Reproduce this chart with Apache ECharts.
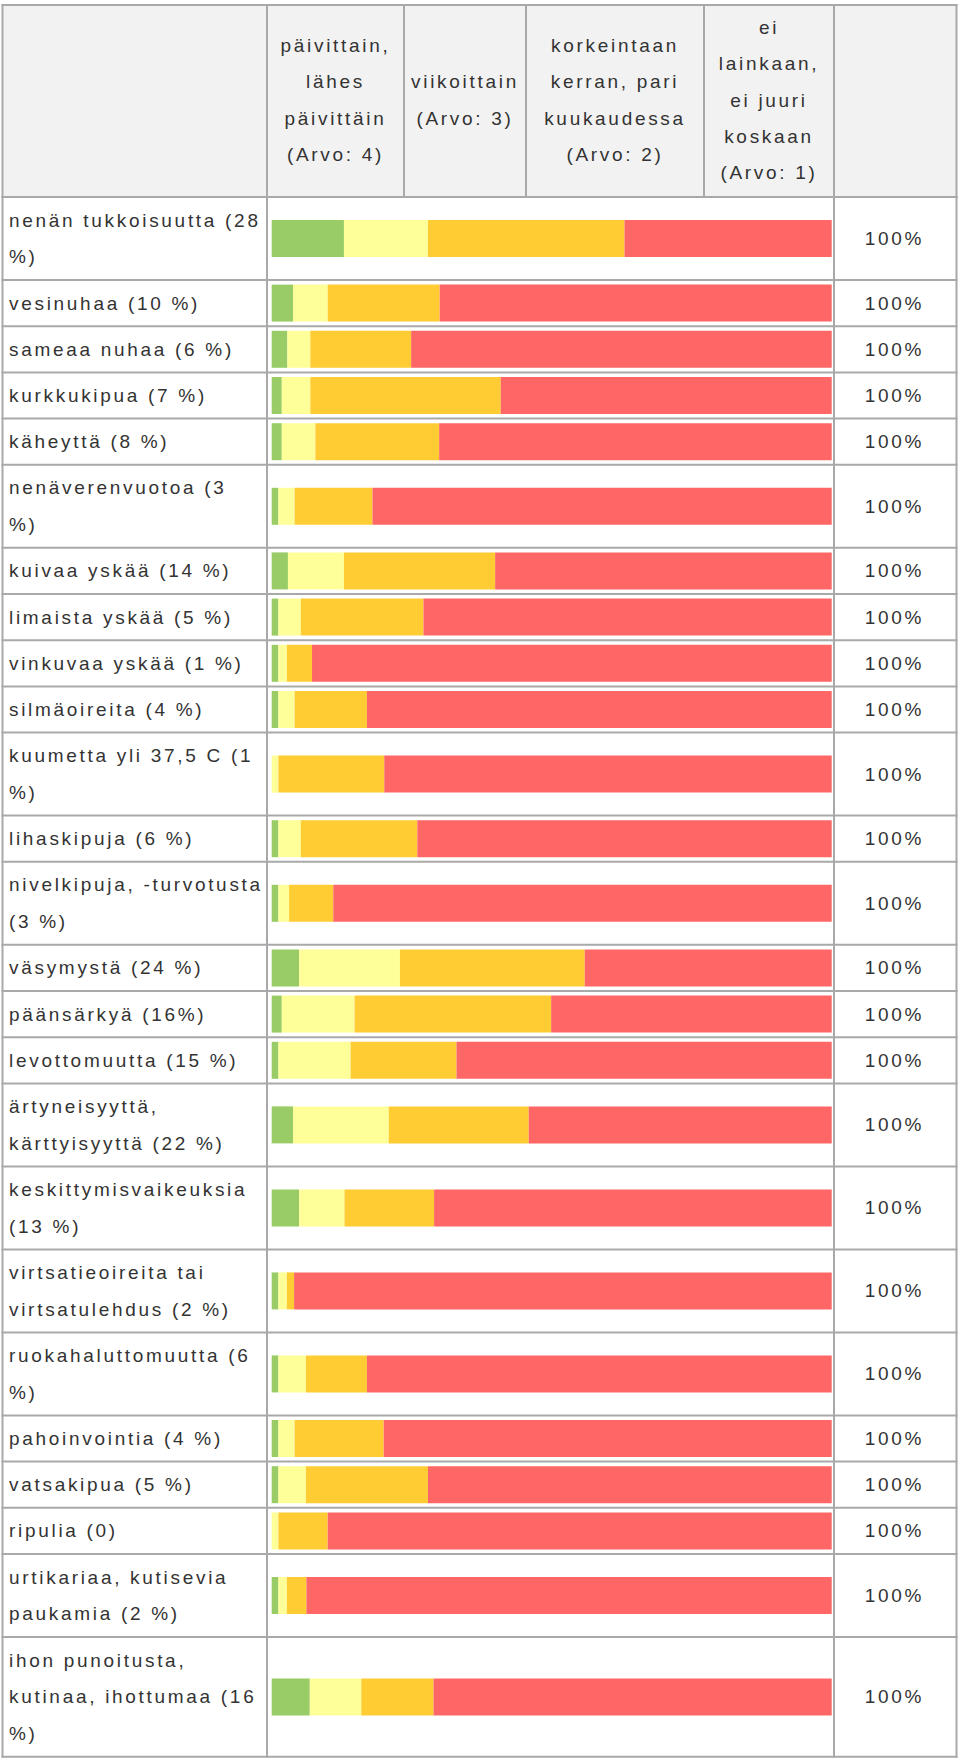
<!DOCTYPE html>
<html>
<head>
<meta charset="utf-8">
<script src="https://cdn.jsdelivr.net/npm/echarts@6/dist/echarts.min.js"></script>
<style>
  html, body { margin: 0; padding: 0; background: #ffffff; }
  #chart { width: 960px; height: 1759px; }
  #chart text { letter-spacing: 2.7px; }
</style>
</head>
<body>
<div id="chart"></div>
<script>
// ---- data ----
const categories = [
  'nenän tukkoisuutta (28\n%)',
  'vesinuhaa (10 %)',
  'sameaa nuhaa (6 %)',
  'kurkkukipua (7 %)',
  'käheyttä (8 %)',
  'nenäverenvuotoa (3\n%)',
  'kuivaa yskää (14 %)',
  'limaista yskää (5 %)',
  'vinkuvaa yskää (1 %)',
  'silmäoireita (4 %)',
  'kuumetta yli 37,5 C (1\n%)',
  'lihaskipuja (6 %)',
  'nivelkipuja, -turvotusta\n(3 %)',
  'väsymystä (24 %)',
  'päänsärkyä (16%)',
  'levottomuutta (15 %)',
  'ärtyneisyyttä,\nkärttyisyyttä (22 %)',
  'keskittymisvaikeuksia\n(13 %)',
  'virtsatieoireita tai\nvirtsatulehdus (2 %)',
  'ruokahaluttomuutta (6\n%)',
  'pahoinvointia (4 %)',
  'vatsakipua (5 %)',
  'ripulia (0)',
  'urtikariaa, kutisevia\npaukamia (2 %)',
  'ihon punoitusta,\nkutinaa, ihottumaa (16\n%)'
];
const levelNames = [
  'päivittain,\nlähes\npäivittäin\n(Arvo: 4)',
  'viikoittain\n(Arvo: 3)',
  'korkeintaan\nkerran, pari\nkuukaudessa\n(Arvo: 2)',
  'ei\nlainkaan,\nei juuri\nkoskaan\n(Arvo: 1)'
];
const daily   = [12.9, 3.8, 2.8, 1.8, 1.8, 1.2, 2.9, 1.2, 1.2, 1.2, 0.0, 1.2, 1.2, 4.9, 1.8, 1.2, 3.8, 4.9, 1.2, 1.2, 1.2, 1.2, 0.0, 1.2, 6.8];
const weekly  = [15.0, 6.2, 4.1, 5.1, 6.0, 2.9, 10.0, 4.0, 1.5, 2.9, 1.2, 4.0, 1.9, 18.0, 13.0, 12.9, 17.1, 8.1, 1.5, 4.9, 2.9, 4.9, 1.2, 1.5, 9.2];
const monthly = [35.1, 20.0, 18.0, 34.0, 22.1, 13.9, 27.0, 21.9, 4.5, 12.9, 18.9, 20.8, 7.9, 33.0, 35.1, 18.9, 25.0, 16.0, 1.3, 10.9, 15.9, 21.8, 8.8, 3.5, 12.9];
const never   = [37.0, 70.0, 75.1, 59.1, 70.1, 82.0, 60.1, 72.9, 92.8, 83.0, 79.9, 74.0, 89.0, 44.1, 50.1, 67.0, 54.1, 71.0, 96.0, 83.0, 80.0, 72.1, 90.0, 93.8, 71.1];
const seriesValues = [daily, weekly, monthly, never];
const levelColors = ['#99cc66', '#ffff99', '#ffcc33', '#ff6666'];

// ---- layout ----
const FONT = 'Liberation Sans, Arial, Helvetica, sans-serif';
const TXT = '#333333';
const LINE = '#a9a9a9';
const tableLeft = 2.5, tableRight = 956.5, tableTop = 5, headerBottom = 197;
const colLabelRight = 267, colBarRight = 834;
const headerCols = [267, 404, 526, 704, 834];
const barLeft = 271.7, barSpan = 560;
const lineH = 36.8;

const rowTops = [];
const rowHeights = [];
let y = headerBottom;
categories.forEach(c => {
  const n = c.split('\n').length;
  const h = 9.4 + lineH * n;
  rowTops.push(y); rowHeights.push(h);
  y += h;
});
const tableBottom = y;

const grids = [], xAxes = [], yAxes = [], series = [];
categories.forEach((cat, i) => {
  grids.push({
    left: barLeft, width: barSpan, top: rowTops[i], height: rowHeights[i],
    containLabel: false, outerBoundsMode: 'none'
  });
  xAxes.push({ type: 'value', gridIndex: i, min: 0, max: 100, show: false });
  yAxes.push({
    type: 'category', gridIndex: i, data: [cat],
    axisLine: { show: false }, axisTick: { show: false }, splitLine: { show: false },
    axisLabel: {
      show: true, align: 'left', margin: barLeft - 9,
      fontSize: 19, fontFamily: FONT, color: TXT, lineHeight: lineH
    }
  });
  seriesValues.forEach((vals, k) => {
    const s = {
      type: 'bar', name: levelNames[k], xAxisIndex: i, yAxisIndex: i,
      stack: 'row' + i, data: [vals[i]], barWidth: 37,
      itemStyle: { color: levelColors[k] }, silent: true, animation: false
    };
    if (k === seriesValues.length - 1) {
      s.label = {
        show: true, position: 'right', distance: 33,
        fontSize: 19, fontFamily: FONT, color: TXT,
        formatter: () => Math.round(seriesValues.reduce((a, v) => a + v[i], 0)) + '%'
      };
    }
    series.push(s);
  });
});

// table graphics
const graphics = [];
graphics.push({ type: 'rect', shape: { x: tableLeft, y: tableTop, width: tableRight - tableLeft, height: headerBottom - tableTop },
  style: { fill: '#f2f2f2' }, z: 0, silent: true });
function hline(yy) {
  graphics.push({ type: 'line', shape: { x1: tableLeft - 1, y1: yy, x2: tableRight + 1, y2: yy },
    style: { stroke: LINE, lineWidth: 2 }, z: 10, silent: true });
}
function vline(xx, y1, y2) {
  graphics.push({ type: 'line', shape: { x1: xx, y1: y1, x2: xx, y2: y2 },
    style: { stroke: LINE, lineWidth: 2 }, z: 10, silent: true });
}
hline(tableTop); hline(headerBottom);
rowTops.forEach(t => hline(t));
hline(tableBottom);
[tableLeft, colLabelRight, colBarRight, tableRight].forEach(xx => vline(xx, tableTop - 1, tableBottom + 1));
headerCols.slice(1, 4).forEach(xx => vline(xx, tableTop, headerBottom));
levelNames.forEach((name, k) => {
  graphics.push({
    type: 'text', x: (headerCols[k] + headerCols[k + 1]) / 2, y: 100, z: 20, silent: true,
    style: { text: name, fontSize: 19, fontFamily: FONT, fill: TXT,
      align: 'center', verticalAlign: 'middle', lineHeight: 36.3 }
  });
});

const chart = echarts.init(document.getElementById('chart'), null, { renderer: 'svg', width: 960, height: 1759 });
chart.setOption({
  backgroundColor: '#ffffff',
  animation: false,
  grid: grids, xAxis: xAxes, yAxis: yAxes, series: series,
  graphic: { elements: graphics }
});
</script>
</body>
</html>
